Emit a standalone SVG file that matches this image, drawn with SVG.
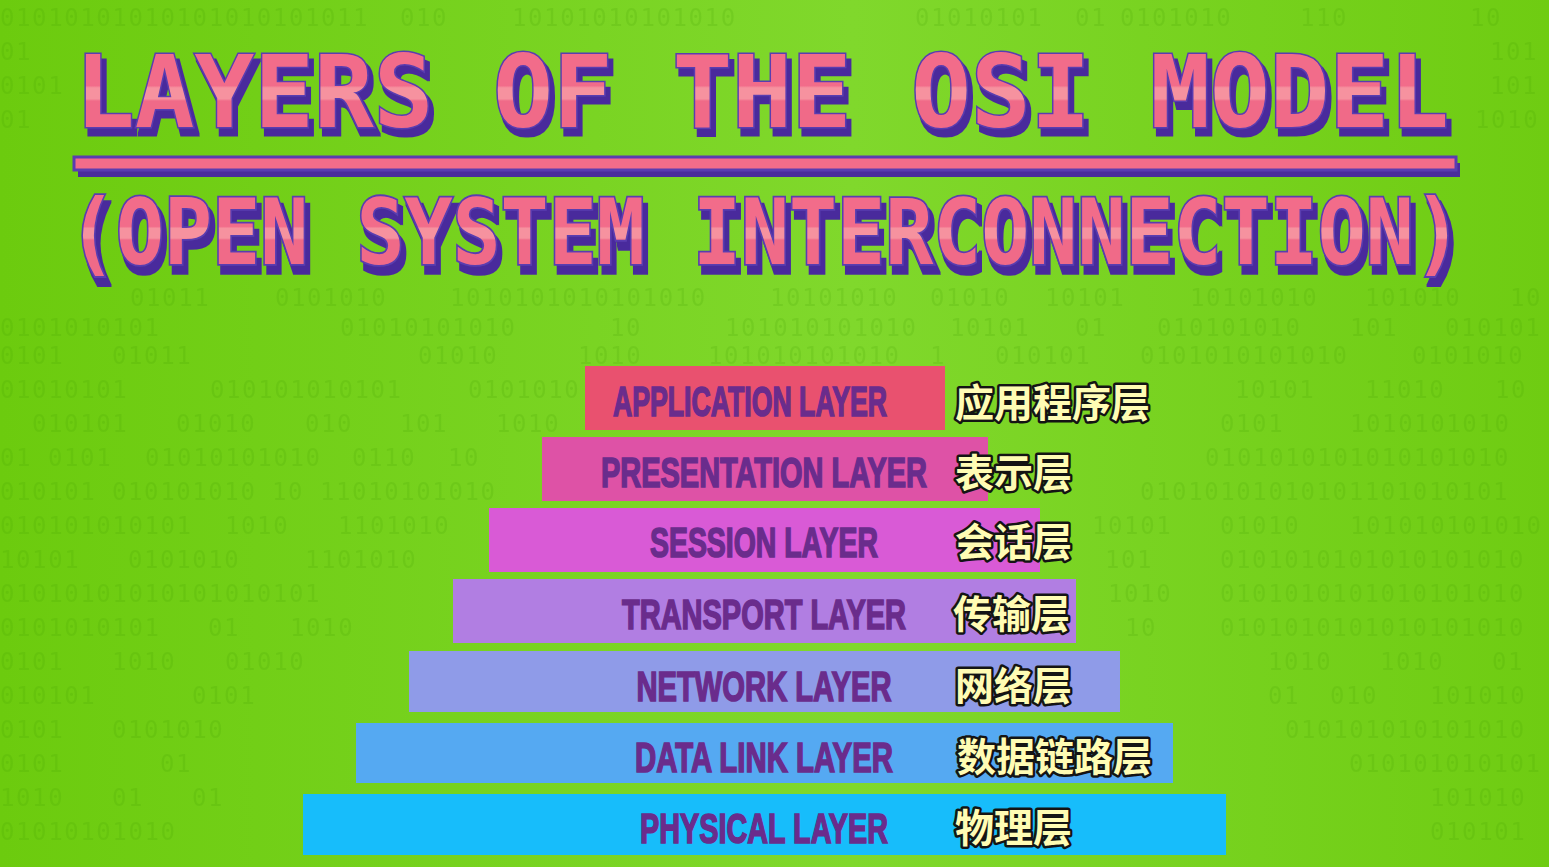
<svg xmlns="http://www.w3.org/2000/svg" width="1549" height="867" viewBox="0 0 1549 867">
<defs>
<linearGradient id="bg" x1="0" y1="0" x2="1" y2="0">
<stop offset="0" stop-color="#6ccb0e"/>
<stop offset="0.55" stop-color="#80d82c"/>
<stop offset="1" stop-color="#6fcc12"/>
</linearGradient>
<linearGradient id="t1" gradientUnits="userSpaceOnUse" x1="0" y1="55" x2="0" y2="128">
<stop offset="0" stop-color="#f26c8a"/>
<stop offset="0.42" stop-color="#f26c8a"/>
<stop offset="0.45" stop-color="#f6929f"/>
<stop offset="0.6" stop-color="#f6929f"/>
<stop offset="0.63" stop-color="#f06a88"/>
<stop offset="1" stop-color="#f06a88"/>
</linearGradient>
<linearGradient id="t2" gradientUnits="userSpaceOnUse" x1="0" y1="166" x2="0" y2="220">
<stop offset="0" stop-color="#f26c8a"/>
<stop offset="0.42" stop-color="#f26c8a"/>
<stop offset="0.45" stop-color="#f6929f"/>
<stop offset="0.6" stop-color="#f6929f"/>
<stop offset="0.63" stop-color="#f06a88"/>
<stop offset="1" stop-color="#f06a88"/>
</linearGradient>
<filter id="sh" x="-5%" y="-20%" width="110%" height="150%">
<feMorphology in="SourceAlpha" operator="dilate" radius="1" result="d"/>
<feOffset in="d" dx="4" dy="7" result="o"/>
<feFlood flood-color="#4a2c9c"/>
<feComposite in2="o" operator="in" result="s"/>
<feMerge><feMergeNode in="s"/><feMergeNode in="SourceGraphic"/></feMerge>
</filter>
</defs>
<style>
.bin{font-family:"DejaVu Sans Mono","Liberation Mono",monospace;font-size:24px;letter-spacing:1.6px;fill:#3f9c00;opacity:0.16}
.ttl{font-family:"DejaVu Sans Mono","Liberation Mono",monospace;font-weight:bold;stroke:#5a3cb0;stroke-width:3;stroke-linejoin:miter;paint-order:stroke;filter:url(#sh)}
.lbl{font-family:"Liberation Sans","Arial",sans-serif;font-weight:bold;font-size:28px;fill:#6a2c8c;stroke:#6a2c8c;stroke-width:1.1;text-anchor:middle}
.cn{font-family:"Noto Sans CJK SC","Noto Sans",sans-serif;font-weight:bold;font-size:39px;fill:#fffcb4;stroke:#141414;stroke-width:5;stroke-linejoin:round;paint-order:stroke}
</style>
<rect x="0" y="0" width="1549" height="867" fill="url(#bg)"/>
<g id="binary">
<text class="bin" y="26"><tspan x="0">01010101010101010101011</tspan><tspan x="400">010</tspan><tspan x="512">10101010101010</tspan><tspan x="915">01010101</tspan><tspan x="1075">01</tspan><tspan x="1120">0101010</tspan><tspan x="1300">110</tspan><tspan x="1470">10</tspan></text>
<text class="bin" y="60"><tspan x="0">01</tspan><tspan x="1490">101</tspan></text>
<text class="bin" y="94"><tspan x="0">0101</tspan><tspan x="1490">101</tspan></text>
<text class="bin" y="128"><tspan x="0">01</tspan><tspan x="1475">1010</tspan></text>
<text class="bin" y="306"><tspan x="130">01011</tspan><tspan x="275">0101010</tspan><tspan x="450">1010101010101010</tspan><tspan x="770">10101010</tspan><tspan x="930">01010</tspan><tspan x="1045">10101</tspan><tspan x="1190">10101010</tspan><tspan x="1365">101010</tspan><tspan x="1510">10</tspan></text>
<text class="bin" y="336"><tspan x="0">0101010101</tspan><tspan x="340">01010101010</tspan><tspan x="610">10</tspan><tspan x="725">101010101010</tspan><tspan x="950">10101</tspan><tspan x="1075">01</tspan><tspan x="1157">010101010</tspan><tspan x="1350">101</tspan><tspan x="1445">010101</tspan></text>
<text class="bin" y="364"><tspan x="0">0101</tspan><tspan x="112">01011</tspan><tspan x="418">01010</tspan><tspan x="578">1010</tspan><tspan x="708">101010101010</tspan><tspan x="930">1</tspan><tspan x="995">010101</tspan><tspan x="1140">0101010101010</tspan><tspan x="1412">0101010</tspan></text>
<text class="bin" y="398"><tspan x="0">01010101</tspan><tspan x="210">010101010101</tspan><tspan x="468">0101010</tspan><tspan x="1235">10101</tspan><tspan x="1365">11010</tspan><tspan x="1495">10</tspan></text>
<text class="bin" y="432"><tspan x="32">010101</tspan><tspan x="176">01010</tspan><tspan x="305">010</tspan><tspan x="400">101</tspan><tspan x="496">1010</tspan><tspan x="1220">0101</tspan><tspan x="1350">1010101010</tspan></text>
<text class="bin" y="466"><tspan x="0">01</tspan><tspan x="48">0101</tspan><tspan x="145">01010101010</tspan><tspan x="352">0110</tspan><tspan x="448">10</tspan><tspan x="1205">0101010101010101010</tspan></text>
<text class="bin" y="500"><tspan x="0">010101</tspan><tspan x="112">010101010</tspan><tspan x="272">10</tspan><tspan x="320">11010101010</tspan><tspan x="1140">01010101010101101010101</tspan></text>
<text class="bin" y="534"><tspan x="0">010101010101</tspan><tspan x="225">1010</tspan><tspan x="338">1101010</tspan><tspan x="1092">10101</tspan><tspan x="1220">01010</tspan><tspan x="1350">101010101010</tspan></text>
<text class="bin" y="568"><tspan x="0">10101</tspan><tspan x="128">0101010</tspan><tspan x="305">1101010</tspan><tspan x="1105">101</tspan><tspan x="1220">0101010101010101010</tspan></text>
<text class="bin" y="602"><tspan x="0">01010101010101010101</tspan><tspan x="1108">1010</tspan><tspan x="1220">0101010101010101010</tspan></text>
<text class="bin" y="636"><tspan x="0">0101010101</tspan><tspan x="208">01</tspan><tspan x="290">1010</tspan><tspan x="1125">10</tspan><tspan x="1220">0101010101010101010</tspan></text>
<text class="bin" y="670"><tspan x="0">0101</tspan><tspan x="112">1010</tspan><tspan x="225">01010</tspan><tspan x="1268">1010</tspan><tspan x="1380">1010</tspan><tspan x="1492">01</tspan></text>
<text class="bin" y="704"><tspan x="0">010101</tspan><tspan x="192">0101</tspan><tspan x="1268">01</tspan><tspan x="1330">010</tspan><tspan x="1430">101010</tspan></text>
<text class="bin" y="738"><tspan x="0">0101</tspan><tspan x="112">0101010</tspan><tspan x="1285">010101010101010</tspan></text>
<text class="bin" y="772"><tspan x="0">0101</tspan><tspan x="160">01</tspan><tspan x="1349">010101010101</tspan></text>
<text class="bin" y="806"><tspan x="0">1010</tspan><tspan x="112">01</tspan><tspan x="192">01</tspan><tspan x="1430">101010</tspan></text>
<text class="bin" y="840"><tspan x="0">01010101010</tspan><tspan x="1430">010101</tspan></text>
</g>
<g id="title">
<text class="ttl" x="75" y="127" font-size="100" fill="url(#t1)" textLength="1374" lengthAdjust="spacingAndGlyphs">LAYERS OF THE OSI MODEL</text>
</g>
<g id="underline">
<rect x="78" y="163" width="1382" height="14" fill="#4a2c9c"/>
<rect x="74" y="157" width="1382" height="13" fill="#f26c8a" stroke="#5a3cb0" stroke-width="3"/>
</g>
<g id="subtitle" transform="scale(1,1.2)">
<text class="ttl" x="68" y="220" font-size="75" fill="url(#t2)" textLength="1394" lengthAdjust="spacingAndGlyphs">(OPEN SYSTEM INTERCONNECTION)</text>
</g>
<g id="application">
<rect x="585" y="366" width="360" height="64" fill="#e9516f"/>
<text class="lbl" x="750" y="277.3" transform="scale(1,1.5)" textLength="274" lengthAdjust="spacingAndGlyphs">APPLICATION LAYER</text>
<text class="cn" x="955" y="417">应用程序层</text>
</g>
<g id="presentation">
<rect x="542" y="437" width="446" height="64" fill="#de52a6"/>
<text class="lbl" x="764" y="324.7" transform="scale(1,1.5)" textLength="326" lengthAdjust="spacingAndGlyphs">PRESENTATION LAYER</text>
<text class="cn" x="955" y="487">表示层</text>
</g>
<g id="session">
<rect x="489" y="508" width="551" height="64" fill="#d95ad6"/>
<text class="lbl" x="764" y="371.3" transform="scale(1,1.5)" textLength="228" lengthAdjust="spacingAndGlyphs">SESSION LAYER</text>
<text class="cn" x="955" y="556">会话层</text>
</g>
<g id="transport">
<rect x="453" y="579" width="623" height="64" fill="#b17ee2"/>
<text class="lbl" x="764" y="419.3" transform="scale(1,1.5)" textLength="284" lengthAdjust="spacingAndGlyphs">TRANSPORT LAYER</text>
<text class="cn" x="953" y="628">传输层</text>
</g>
<g id="network">
<rect x="409" y="651" width="711" height="61" fill="#8f9be8"/>
<text class="lbl" x="764" y="467.3" transform="scale(1,1.5)" textLength="255" lengthAdjust="spacingAndGlyphs">NETWORK LAYER</text>
<text class="cn" x="955" y="700">网络层</text>
</g>
<g id="datalink">
<rect x="356" y="723" width="817" height="60" fill="#55a9f2"/>
<text class="lbl" x="764" y="514.7" transform="scale(1,1.5)" textLength="258" lengthAdjust="spacingAndGlyphs">DATA LINK LAYER</text>
<text class="cn" x="957" y="771">数据链路层</text>
</g>
<g id="physical">
<rect x="303" y="794" width="923" height="61" fill="#17bdfb"/>
<text class="lbl" x="764" y="562" transform="scale(1,1.5)" textLength="248" lengthAdjust="spacingAndGlyphs">PHYSICAL LAYER</text>
<text class="cn" x="955" y="842">物理层</text>
</g>
<g id="connectors"/>
</svg>
